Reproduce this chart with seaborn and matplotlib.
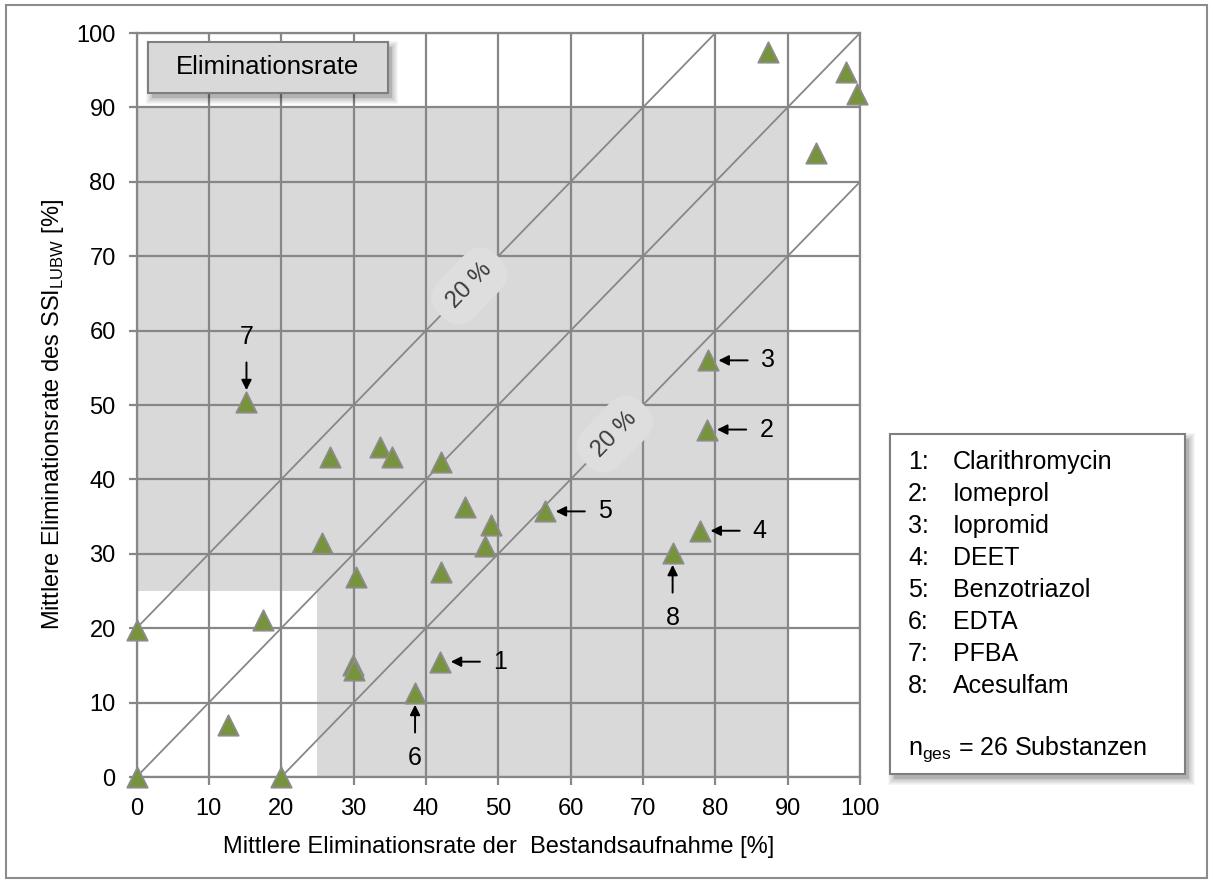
import matplotlib
matplotlib.use("Agg")
import matplotlib.pyplot as plt
import seaborn as sns
import pandas as pd
from matplotlib.patches import Rectangle, Polygon

# Mean elimination rates [%] per substance: inventory survey (x) vs. SSI LUBW (y)
elim_bestand = [0.0, 0.0, 20.0, 12.6, 17.5, 29.9, 30.1, 38.5, 42.0, 30.3,
                42.1, 25.6, 48.2, 49.0, 45.4, 56.5, 26.8, 33.6, 35.3, 42.1,
                15.2, 74.1, 77.9, 78.8, 79.0, 87.3, 98.0, 99.6, 93.9]
elim_ssi = [0.0, 19.8, 0.0, 7.0, 21.1, 15.0, 14.4, 11.3, 15.5, 26.9,
            27.5, 31.5, 31.0, 33.9, 36.3, 35.7, 43.0, 44.4, 43.0, 42.3,
            50.4, 30.1, 33.1, 46.7, 56.0, 97.4, 94.7, 91.8, 83.9]

# Highlighted substances: number, name, index of the point, side of the label
marked_no = [1, 2, 3, 4, 5, 6, 7, 8]
marked_names = ["Clarithromycin", "Iomeprol", "Iopromid", "DEET",
                "Benzotriazol", "EDTA", "PFBA", "Acesulfam"]
marked_idx = [8, 23, 24, 22, 15, 7, 20, 21]
marked_side = ["right", "right", "right", "right", "right", "below", "above", "below"]

n_total = 26
ticks = list(range(0, 101, 10))
band_offsets = [20, 0, -20]

W, H = 1213, 884
GRID = "#878787"
FILL = "#d9d9d9"

sns.set_theme(style="white")
plt.rcParams["font.family"] = ["Liberation Sans", "DejaVu Sans"]

fig = plt.figure(figsize=(W / 100, H / 100), dpi=100)
ax = fig.add_axes([136.5 / W, 1 - 777 / H, (860 - 136.5) / W, (777 - 33) / H])


def fx(px):
    return px / W


def fy(py):
    return 1 - py / H


# shaded area: 0..90 on both axes without the lower-left 25 x 25 corner
ax.add_patch(Polygon([(0, 25), (25, 25), (25, 0), (90, 0), (90, 90), (0, 90)],
                     closed=True, facecolor=FILL, edgecolor="none", zorder=0.2))

ax.set_xlim(0, 100)
ax.set_ylim(0, 100)
ax.set_xticks(ticks)
ax.set_yticks(ticks)
ax.set_axisbelow(True)
ax.grid(True, color=GRID, linewidth=1.6)
for sp in ax.spines.values():
    sp.set_color(GRID)
    sp.set_linewidth(1.6)
ax.tick_params(axis="both", which="major", length=6, width=1.6, color=GRID,
               labelsize=17, labelcolor="black", pad=9, bottom=True, left=True,
               direction="out")

# 1:1 line and +/- 20 % bands
for off in band_offsets:
    xs = [max(0, -off), min(100, 100 - off)]
    ax.plot(xs, [x + off for x in xs], color=GRID, linewidth=1.3, zorder=2)

for off, xc in [(20, 46), (-20, 66.1)]:
    ax.text(xc, xc + off, "20 %", rotation=45.8, rotation_mode="anchor",
            ha="center", va="center", fontsize=17, color="#3c3c3c", zorder=3,
            bbox=dict(boxstyle="round,pad=0.6,rounding_size=1.0",
                      facecolor="#dedede", edgecolor="none"))

df = pd.DataFrame({"bestand": elim_bestand, "ssi": elim_ssi})
sns.scatterplot(data=df, x="bestand", y="ssi", marker="^", s=215,
                color="#77933c", edgecolor="#8c8c8c", linewidth=1.3,
                ax=ax, zorder=5, legend=False, clip_on=False)

ax.set_xlabel("Mittlere Eliminationsrate der  Bestandsaufnahme [%]",
              fontsize=17, color="black", labelpad=12)
ax.set_ylabel(r"Mittlere Eliminationsrate des SSI$_\mathregular{LUBW}$ [%]",
              fontsize=17, color="black")
ax.yaxis.set_label_coords((66 - 136.5) / (860 - 136.5), 0.487)

# arrows pointing at the numbered substances
side_dir = {"right": (1, 0), "below": (0, -1), "above": (0, 1)}
for no, idx, side in zip(marked_no, marked_idx, marked_side):
    px, py = elim_bestand[idx], elim_ssi[idx]
    dx, dy = side_dir[side]
    head = 7.5 if side == "right" else 8.5
    tail = 28.5
    lab = 43 if side == "right" else 47
    ax.annotate("", xy=(px, py), xytext=(dx * tail, dy * tail),
                textcoords="offset points", zorder=6,
                arrowprops=dict(arrowstyle="-|>", color="black", lw=1.4,
                                mutation_scale=15, shrinkA=0, shrinkB=head))
    ax.annotate(str(no), xy=(px, py), xytext=(dx * lab, dy * lab),
                textcoords="offset points", ha="center", va="center",
                fontsize=18, color="black", zorder=6)


def shadowed_box(x0, y0, x1, y1):
    # soft drop shadow offset to the lower right
    for k in range(6, 0, -1):
        fig.add_artist(Rectangle((fx(x0 + 4 - k), fy(y1 + 5 + k)),
                                 (x1 - x0 + 2 * k) / W, (y1 - y0 + 2 * k) / H,
                                 transform=fig.transFigure, facecolor="#000000",
                                 edgecolor="none", alpha=0.035, zorder=8))
    fig.add_artist(Rectangle((fx(x0 + 4), fy(y1 + 5)), (x1 - x0) / W, (y1 - y0) / H,
                             transform=fig.transFigure, facecolor="#000000",
                             edgecolor="none", alpha=0.12, zorder=8))


# title box
shadowed_box(148, 42, 388, 93)
fig.add_artist(Rectangle((fx(148), fy(93)), 240 / W, 51 / H,
                         transform=fig.transFigure, facecolor=FILL,
                         edgecolor="#7f7f7f", linewidth=1.5, zorder=9))
fig.text(fx(268), fy(67.5), "Eliminationsrate", ha="center", va="center",
         fontsize=18.5, color="black", zorder=10)

# legend box with the substance names
lx0, ly0, lx1, ly1 = 890, 434, 1185, 774
shadowed_box(lx0, ly0, lx1, ly1)
fig.add_artist(Rectangle((fx(lx0), fy(ly1)), (lx1 - lx0) / W, (ly1 - ly0) / H,
                         transform=fig.transFigure, facecolor="white",
                         edgecolor="#7f7f7f", linewidth=1.5, zorder=9))
for k, (no, name) in enumerate(zip(marked_no, marked_names)):
    yy = 462 + 32 * k
    fig.text(fx(908), fy(yy), f"{no}:", ha="left", va="center",
             fontsize=18, color="black", zorder=10)
    fig.text(fx(953), fy(yy), name, ha="left", va="center",
             fontsize=18, color="black", zorder=10)
fig.text(fx(908), fy(749), r"n$_\mathregular{ges}$" + f" = {n_total} Substanzen",
         ha="left", va="center", fontsize=18, color="black", zorder=10)

# outer chart frame
fig.add_artist(Rectangle((fx(6), fy(878)), 1201 / W, 873 / H,
                         transform=fig.transFigure, facecolor="none",
                         edgecolor="#8c8c8c", linewidth=1.5, zorder=1))

fig.savefig("out.png", dpi=100)
